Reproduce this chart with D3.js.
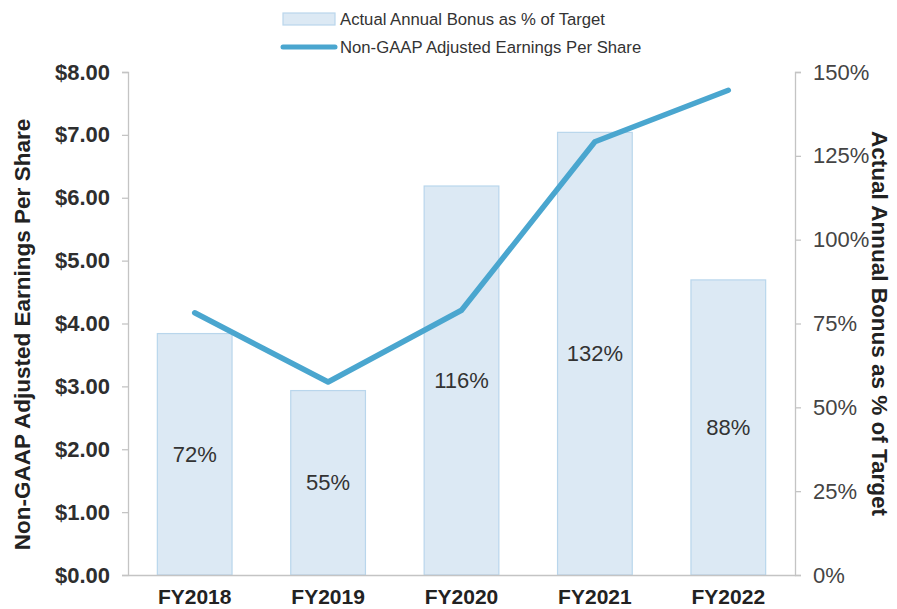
<!DOCTYPE html>
<html>
<head>
<meta charset="utf-8">
<script src="https://cdn.jsdelivr.net/npm/d3@7/dist/d3.min.js"></script>
<style>
  html, body { margin: 0; padding: 0; background: #fff; }
  svg { display: block; font-family: "Liberation Sans", Arial, sans-serif; }
</style>
</head>
<body>
<svg id="chart" width="897" height="609"></svg>
<script>
// Fiscal years on the x axis
const years = ["FY2018", "FY2019", "FY2020", "FY2021", "FY2022"];
// Actual annual bonus payout, % of target (bars, right axis)
const bonusPct = [72, 55, 116, 132, 88];
// Non-GAAP adjusted EPS in dollars (line, left axis)
const eps = [4.17, 3.07, 4.21, 6.89, 7.71];
// Axis ticks
const epsTicks = [0, 1, 2, 3, 4, 5, 6, 7, 8];
const pctTicks = [0, 25, 50, 75, 100, 125, 150];
// Legend entries
const legendLabels = ["Actual Annual Bonus as % of Target", "Non-GAAP Adjusted Earnings Per Share"];

const svg = d3.select("#chart");
const m = { left: 128, right: 795, top: 72, bottom: 575 };
const FONT = "Liberation Sans, Arial, sans-serif";

const x = d3.scaleBand().domain(years).range([m.left, m.right])
  .paddingInner(0.44).paddingOuter(0.22);
const yL = d3.scaleLinear().domain([0, 8]).range([m.bottom, m.top]);
const yR = d3.scaleLinear().domain([0, 150]).range([m.bottom, m.top]);

const barFill = "#dce9f4", barStroke = "#b9d6ec", lineColor = "#4aa6cf";
const axisColor = "#c4c4c4";

// Bars
svg.append("g").selectAll("rect").data(years).join("rect")
  .attr("x", d => x(d))
  .attr("y", (d, i) => yR(bonusPct[i]))
  .attr("width", x.bandwidth())
  .attr("height", (d, i) => yR(0) - yR(bonusPct[i]))
  .attr("fill", barFill)
  .attr("stroke", barStroke)
  .attr("stroke-width", 1.2);

// Bar value labels, centred in each bar
svg.append("g").selectAll("text").data(years).join("text")
  .attr("x", d => x(d) + x.bandwidth() / 2)
  .attr("y", (d, i) => (yR(bonusPct[i]) + yR(0)) / 2)
  .attr("dy", "0.35em")
  .attr("text-anchor", "middle")
  .attr("font-size", 22)
  .attr("fill", "#333")
  .text((d, i) => bonusPct[i] + "%");

// EPS line
const line = d3.line()
  .x((d, i) => x(years[i]) + x.bandwidth() / 2)
  .y(d => yL(d));
svg.append("path").datum(eps)
  .attr("d", line)
  .attr("fill", "none")
  .attr("stroke", lineColor)
  .attr("stroke-width", 5.5)
  .attr("stroke-linecap", "round")
  .attr("stroke-linejoin", "round");

// Left axis
const gL = svg.append("g").attr("transform", `translate(${m.left},0)`)
  .call(d3.axisLeft(yL).tickValues(epsTicks).tickSize(6).tickPadding(12)
    .tickFormat(d => "$" + d3.format(".2f")(d)));
gL.select(".domain").attr("stroke", axisColor).attr("stroke-width", 1.3);
gL.selectAll(".tick line").attr("stroke", axisColor).attr("stroke-width", 1.3);
gL.selectAll(".tick text").attr("font-size", 22).attr("font-weight", "bold")
  .attr("fill", "#2e2e2e").attr("font-family", FONT);

// Right axis
const gR = svg.append("g").attr("transform", `translate(${m.right},0)`)
  .call(d3.axisRight(yR).tickValues(pctTicks).tickSize(6).tickPadding(12)
    .tickFormat(d => d + "%"));
gR.select(".domain").attr("stroke", axisColor).attr("stroke-width", 1.3);
gR.selectAll(".tick line").attr("stroke", axisColor).attr("stroke-width", 1.3);
gR.selectAll(".tick text").attr("font-size", 22)
  .attr("fill", "#444").attr("font-family", FONT);

// Bottom axis
const gB = svg.append("g").attr("transform", `translate(0,${m.bottom})`)
  .call(d3.axisBottom(x).tickSize(0).tickPadding(14));
gB.select(".domain").attr("stroke", axisColor).attr("stroke-width", 1.3);
gB.selectAll(".tick text").attr("font-size", 21).attr("font-weight", "bold")
  .attr("fill", "#222").attr("font-family", FONT);

// Axis titles
svg.append("text")
  .attr("transform", `translate(22,${(m.top + m.bottom) / 2 + 11}) rotate(-90)`)
  .attr("text-anchor", "middle").attr("dy", "0.35em")
  .attr("font-size", 22.5).attr("font-weight", "bold").attr("fill", "#222")
  .text("Non-GAAP Adjusted Earnings Per Share");
svg.append("text")
  .attr("transform", `translate(880,${(m.top + m.bottom) / 2}) rotate(90)`)
  .attr("text-anchor", "middle").attr("dy", "0.35em")
  .attr("font-size", 22.5).attr("font-weight", "bold").attr("fill", "#222")
  .text("Actual Annual Bonus as % of Target");

// Legend
const lg = svg.append("g");
lg.append("rect").attr("x", 283).attr("y", 13).attr("width", 52).attr("height", 12)
  .attr("fill", barFill).attr("stroke", barStroke).attr("stroke-width", 1.2);
lg.append("line").attr("x1", 283).attr("x2", 335).attr("y1", 47).attr("y2", 47)
  .attr("stroke", lineColor).attr("stroke-width", 5).attr("stroke-linecap", "round");
lg.selectAll("text").data(legendLabels).join("text")
  .attr("x", 340)
  .attr("y", (d, i) => i === 0 ? 19 : 47)
  .attr("dy", "0.35em")
  .attr("font-size", 16.7)
  .attr("fill", "#333")
  .text(d => d);
</script>
</body>
</html>
